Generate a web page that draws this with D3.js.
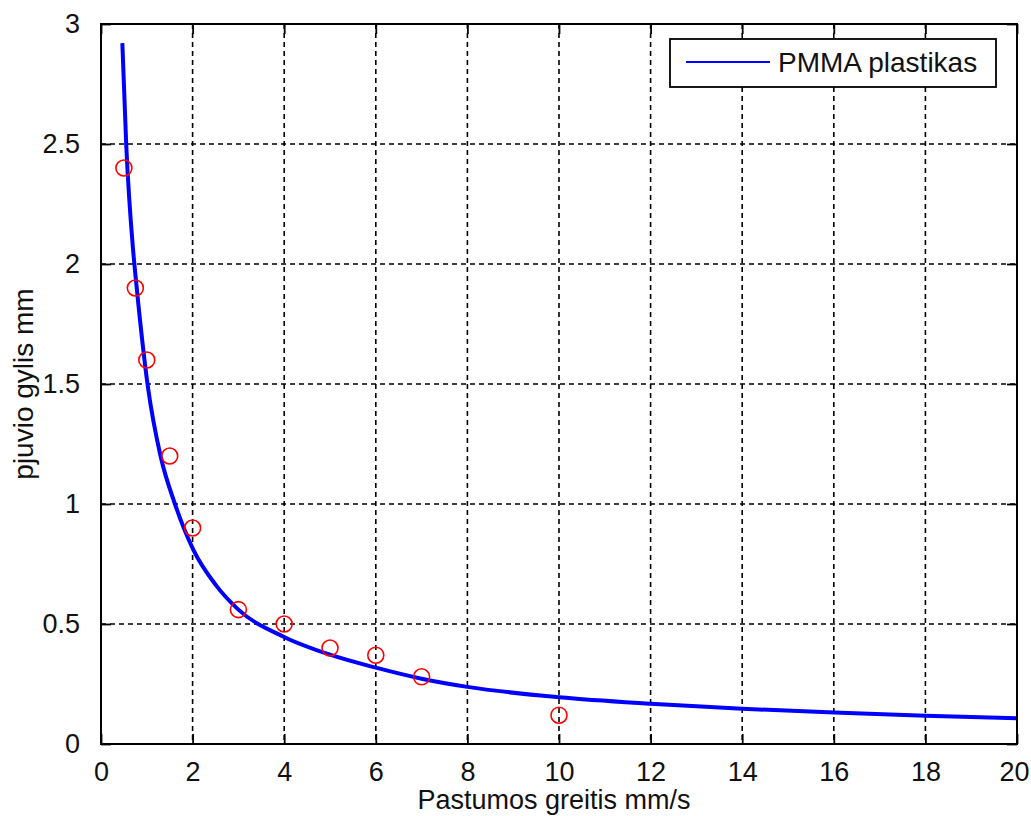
<!DOCTYPE html>
<html>
<head>
<meta charset="utf-8">
<script src="https://cdn.jsdelivr.net/npm/d3@7"></script>
<style>
  html, body { margin: 0; padding: 0; background: #fff; }
  svg { display: block; }
  text { font-family: "Liberation Sans", Arial, sans-serif; fill: #111; }
</style>
</head>
<body>
<svg id="chart" width="1031" height="816"></svg>
<script>
// Measured cut depth vs. feed speed (red markers)
const speedMeasured = [0.5, 0.75, 1, 1.5, 2, 3, 4, 5, 6, 7, 10];
const depthMeasured = [2.4, 1.9, 1.6, 1.2, 0.9, 0.56, 0.5, 0.4, 0.37, 0.28, 0.12];

// Fitted curve for PMMA plastic (blue line)
const speedFit = [0.466, 0.55, 0.7, 0.77, 1.03, 1.3, 1.615, 2.02, 2.5, 3, 4, 5, 6, 7, 8, 10, 12, 14, 16, 18, 20];
const depthFit = [2.92, 2.5, 2.06, 1.92, 1.48, 1.2, 1.0, 0.808, 0.664, 0.56, 0.446, 0.372, 0.318, 0.272, 0.238, 0.195, 0.168, 0.147, 0.131, 0.118, 0.107];

const xTicks = [0, 2, 4, 6, 8, 10, 12, 14, 16, 18, 20];
const yTicks = [0, 0.5, 1, 1.5, 2, 2.5, 3];

const seriesName = "PMMA plastikas";
const xLabel = "Pastumos greitis mm/s";
const yLabel = "pjuvio gylis mm";

const svg = d3.select("#chart");
const plotLeft = 101, plotRight = 1017, plotTop = 24, plotBottom = 744;
const fontSize = 27;
const tickLen = 10;

const x = d3.scaleLinear().domain([0, 20]).range([plotLeft, plotRight]);
const y = d3.scaleLinear().domain([0, 3]).range([plotBottom, plotTop]);

// dashed grid
const grid = svg.append("g");
grid.selectAll("line.gx").data(xTicks.filter(d => d > 0 && d < 20)).join("line")
  .attr("class", "gx")
  .attr("x1", d => x(d)).attr("x2", d => x(d))
  .attr("y1", plotTop).attr("y2", plotBottom)
  .attr("stroke", "#000").attr("stroke-width", 1.6).attr("stroke-dasharray", "5,4");
grid.selectAll("line.gy").data(yTicks.filter(d => d > 0 && d < 3)).join("line")
  .attr("class", "gy")
  .attr("x1", plotLeft).attr("x2", plotRight)
  .attr("y1", d => y(d)).attr("y2", d => y(d))
  .attr("stroke", "#000").attr("stroke-width", 1.6).attr("stroke-dasharray", "5,4");

// axes with inward ticks on all four sides
const axB = d3.axisBottom(x).tickValues(xTicks).tickSizeInner(-tickLen).tickSizeOuter(0).tickPadding(18).tickFormat(d3.format("d"));
const axT = d3.axisTop(x).tickValues(xTicks).tickSizeInner(-tickLen).tickSizeOuter(0).tickFormat("");
const axL = d3.axisLeft(y).tickValues(yTicks).tickSizeInner(-tickLen).tickSizeOuter(0).tickPadding(21).tickFormat(d => d3.format("")(d));
const axR = d3.axisRight(y).tickValues(yTicks).tickSizeInner(-tickLen).tickSizeOuter(0).tickFormat("");

function styleAxis(g) {
  g.select(".domain").remove();
  g.selectAll(".tick line").attr("stroke", "#000").attr("stroke-width", 1.8);
  g.selectAll(".tick text").attr("font-size", fontSize).attr("fill", "#111")
    .attr("font-family", "'Liberation Sans', Arial, sans-serif");
}
const gBottom = svg.append("g").attr("transform", `translate(0,${plotBottom})`).call(axB).call(styleAxis);
svg.append("g").attr("transform", `translate(0,${plotTop})`).call(axT).call(styleAxis);
svg.append("g").attr("transform", `translate(${plotLeft},0)`).call(axL).call(styleAxis);
svg.append("g").attr("transform", `translate(${plotRight},0)`).call(axR).call(styleAxis);

// the last x tick label sits right at the page edge; keep it inside
gBottom.selectAll(".tick text").filter(d => d === 20).attr("text-anchor", "end").attr("dx", 12);

// fitted curve
const fitPts = speedFit.map((s, i) => [s, depthFit[i]]);
const line = d3.line().x(d => x(d[0])).y(d => y(d[1])).curve(d3.curveMonotoneX);
svg.append("path").datum(fitPts)
  .attr("d", line).attr("fill", "none")
  .attr("stroke", "#0000ff").attr("stroke-width", 4)
  .attr("stroke-linejoin", "round");

// measured points
svg.append("g").selectAll("circle")
  .data(speedMeasured.map((s, i) => [s, depthMeasured[i]]))
  .join("circle")
  .attr("cx", d => x(d[0])).attr("cy", d => y(d[1])).attr("r", 8)
  .attr("fill", "none").attr("stroke", "#ff0000").attr("stroke-width", 1.6);

// plot box
svg.append("rect").attr("x", plotLeft).attr("y", plotTop)
  .attr("width", plotRight - plotLeft).attr("height", plotBottom - plotTop)
  .attr("fill", "none").attr("stroke", "#000").attr("stroke-width", 2);

// legend
const lg = svg.append("g");
lg.append("rect").attr("x", 670).attr("y", 39).attr("width", 326).attr("height", 48)
  .attr("fill", "#fff").attr("stroke", "#000").attr("stroke-width", 1.8);
lg.append("line").attr("x1", 686).attr("x2", 770).attr("y1", 62).attr("y2", 62)
  .attr("stroke", "#0000ff").attr("stroke-width", 2);
lg.append("text").attr("x", 778).attr("y", 72).attr("font-size", fontSize + 1).text(seriesName);

// axis titles
svg.append("text").attr("x", (plotLeft + plotRight) / 2 - 5).attr("y", 809)
  .attr("text-anchor", "middle").attr("font-size", fontSize).text(xLabel);
svg.append("text").attr("transform", "translate(33,384) rotate(-90)")
  .attr("text-anchor", "middle").attr("font-size", fontSize + 1).text(yLabel);
</script>
</body>
</html>
